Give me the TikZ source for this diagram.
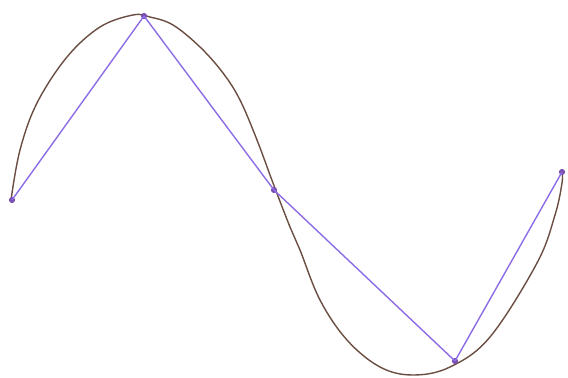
\documentclass[tikz,border=0pt]{standalone}
\usepackage{xcolor}
\definecolor{curvecolor}{HTML}{6B4E42}
\definecolor{chordcolor}{HTML}{8C6DE6}
\definecolor{dotcolor}{HTML}{7A4FB0}

\begin{document}
\begin{tikzpicture}[
    x=0.02cm, y=-0.02cm,
    sinecurve/.style={draw=curvecolor, line width=0.8pt},
    chord/.style={draw=chordcolor, line width=0.8pt},
    vertex/.style={circle, fill=dotcolor, inner sep=0pt, minimum size=3.5pt}
]
\useasboundingbox (0,0) rectangle (568,378);

% the hand drawn sine wave
\draw[sinecurve] plot[smooth, tension=0.6] coordinates {
    (11,200) (20,150) (37,103) (67,57) (100,27) (133,15) (150,17)
    (173,25) (200,47) (223,73) (240,100) (257,140) (273,183) (290,227)
    (300,250) (320,300) (347,340) (380,367) (413,375) (450,367) (490,337)
    (537,263) (555,215) (562,183) (562,172)};

% points on the wave
\node[vertex] (p1) at (12,200) {};
\node[vertex] (p2) at (144,16) {};
\node[vertex] (p3) at (274,190) {};
\node[vertex] (p4) at (455,361) {};
\node[vertex] (p5) at (562,172) {};

% chords between the points
\draw[chord] (p1.center) -- (p2.center);
\draw[chord] (p2.center) -- (p3.center);
\draw[chord] (p3.center) -- (p4.center);
\draw[chord] (p4.center) -- (p5.center);
\end{tikzpicture}
\end{document}
